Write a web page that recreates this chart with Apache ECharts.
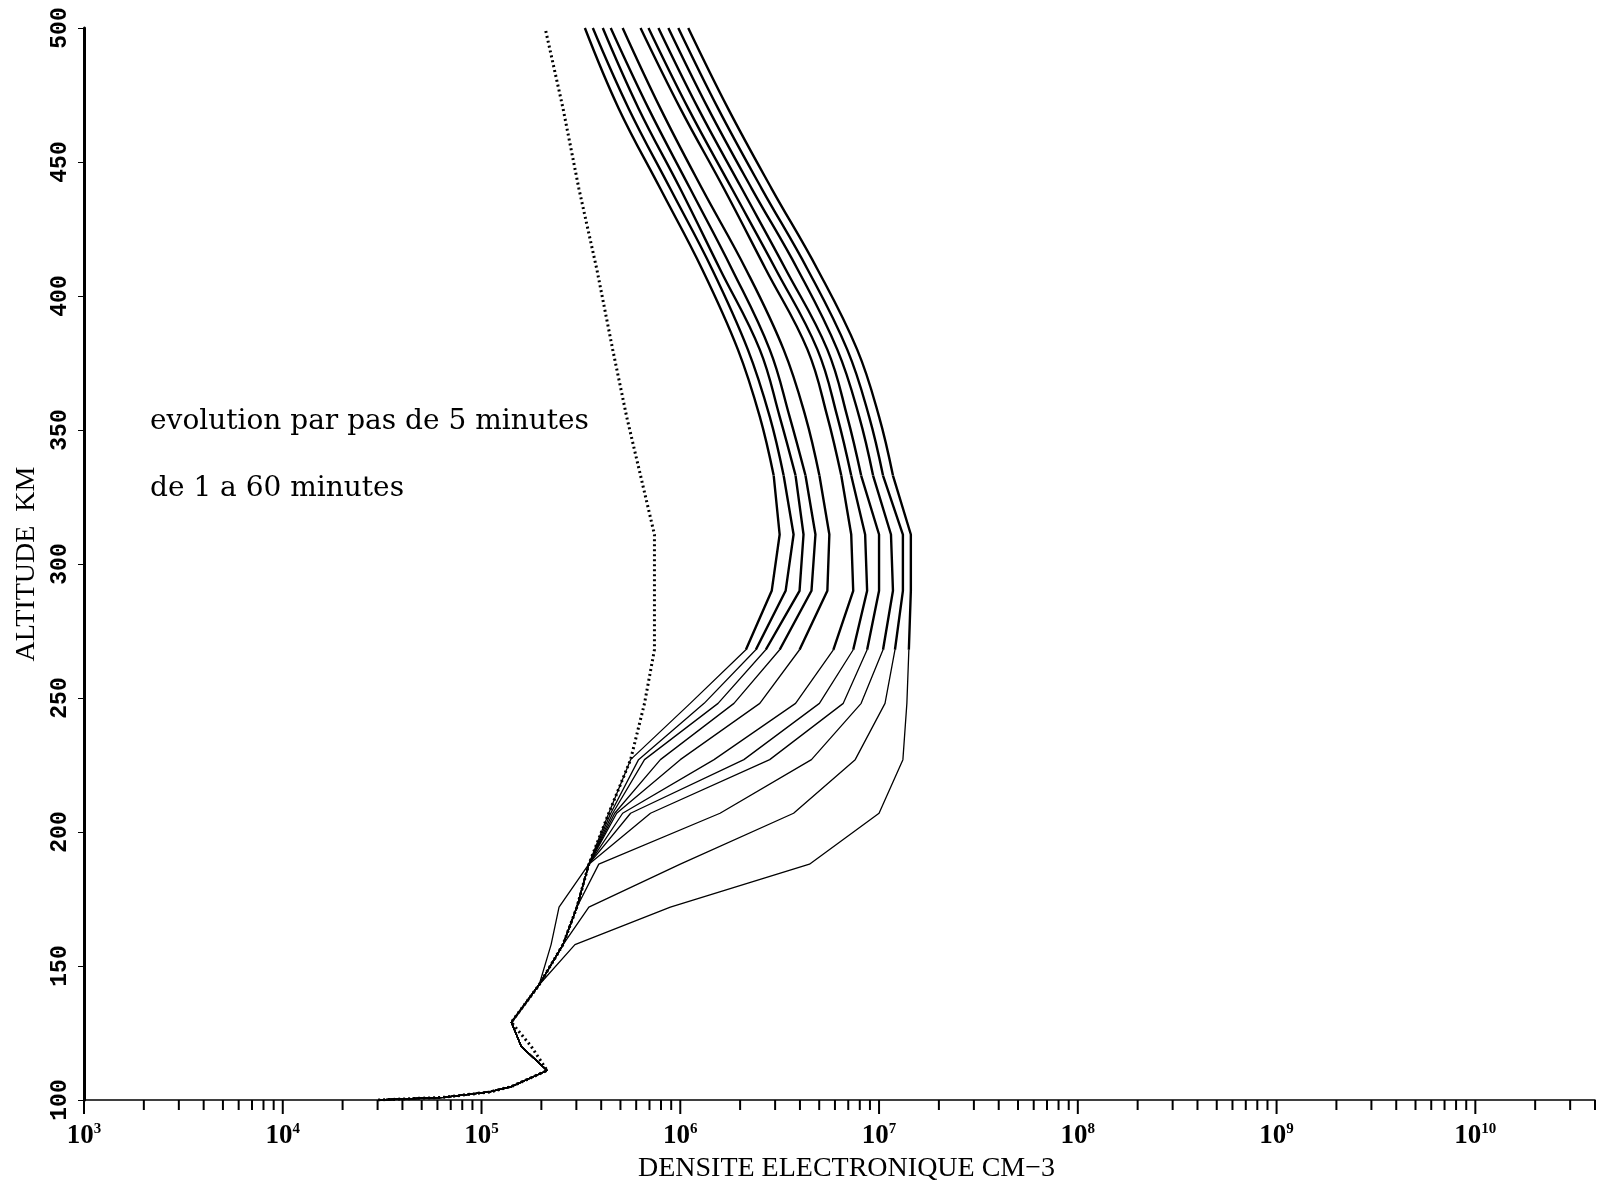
<!DOCTYPE html>
<html>
<head>
<meta charset="utf-8">
<script src="https://cdn.jsdelivr.net/npm/echarts@6/dist/echarts.min.js"></script>
<style>
    html, body { margin: 0; padding: 0; background: #fff; }
    #chart { width: 1602px; height: 1181px; }
</style>
</head>
<body>
<div id="chart"></div>
<script>
// altitude grid (km), shared by every profile
const altitudes = [100, 101, 103, 105, 111, 120, 129, 143, 158, 172, 188, 207, 227, 248, 268, 290, 311, 333, 355, 380, 410, 440, 470, 500];

// log10 of electron density (cm-3) at each altitude
// initial profile (dotted)
const logNeInitial = [4.48, 4.81, 5.04, 5.15, 5.33, 5.25, 5.15, 5.29, 5.41, 5.48, 5.54, 5.64, 5.75, 5.82, 5.87, 5.87, 5.87, 5.80, 5.73, 5.66, 5.58, 5.49, 5.41, 5.32];
// profiles, one every 5 minutes
const logNe1 = [4.48, 4.81, 5.04, 5.15, 5.33, 5.20, 5.15, 5.29, 5.35, 5.39, 5.54, 5.64, 5.75, 6.05, 6.33, 6.46, 6.50, 6.47, 6.40, 6.29, 6.11, 5.90, 5.69, 5.52];
const logNe2 = [4.48, 4.81, 5.04, 5.15, 5.33, 5.20, 5.15, 5.29, 5.41, 5.48, 5.54, 5.65, 5.79, 6.12, 6.38, 6.53, 6.57, 6.52, 6.45, 6.34, 6.16, 5.95, 5.74, 5.56];
const logNe3 = [4.48, 4.81, 5.04, 5.15, 5.33, 5.20, 5.15, 5.29, 5.41, 5.48, 5.54, 5.66, 5.82, 6.19, 6.43, 6.60, 6.62, 6.58, 6.50, 6.40, 6.20, 6.00, 5.79, 5.61];
const logNe4 = [4.48, 4.81, 5.04, 5.15, 5.33, 5.20, 5.15, 5.29, 5.41, 5.48, 5.54, 5.67, 5.90, 6.27, 6.50, 6.66, 6.68, 6.63, 6.55, 6.45, 6.26, 6.05, 5.84, 5.65];
const logNe5 = [4.48, 4.81, 5.04, 5.15, 5.33, 5.20, 5.15, 5.29, 5.41, 5.48, 5.54, 5.68, 6.00, 6.40, 6.60, 6.74, 6.75, 6.70, 6.63, 6.52, 6.33, 6.11, 5.90, 5.71];
const logNe6 = [4.48, 4.81, 5.04, 5.15, 5.33, 5.20, 5.15, 5.29, 5.41, 5.48, 5.54, 5.71, 6.17, 6.58, 6.77, 6.87, 6.86, 6.81, 6.74, 6.64, 6.43, 6.22, 6.00, 5.80];
const logNe7 = [4.48, 4.81, 5.04, 5.15, 5.33, 5.20, 5.15, 5.29, 5.41, 5.48, 5.54, 5.75, 6.32, 6.70, 6.87, 6.94, 6.93, 6.86, 6.79, 6.69, 6.48, 6.26, 6.04, 5.84];
const logNe8 = [4.48, 4.81, 5.04, 5.15, 5.33, 5.20, 5.15, 5.29, 5.41, 5.48, 5.54, 5.85, 6.45, 6.82, 6.94, 7.00, 7.00, 6.91, 6.84, 6.74, 6.53, 6.31, 6.09, 5.89];
const logNe9 = [4.48, 4.81, 5.04, 5.15, 5.33, 5.20, 5.15, 5.29, 5.41, 5.48, 5.59, 6.20, 6.66, 6.91, 7.02, 7.07, 7.06, 6.97, 6.90, 6.79, 6.59, 6.36, 6.14, 5.94];
const logNe10 = [4.48, 4.81, 5.04, 5.15, 5.33, 5.20, 5.15, 5.29, 5.41, 5.54, 6.00, 6.57, 6.88, 7.03, 7.08, 7.12, 7.12, 7.02, 6.95, 6.84, 6.64, 6.41, 6.19, 5.99];
const logNe11 = [4.48, 4.81, 5.04, 5.15, 5.33, 5.20, 5.15, 5.29, 5.47, 5.95, 6.65, 7.00, 7.12, 7.14, 7.15, 7.16, 7.16, 7.07, 7.00, 6.89, 6.69, 6.46, 6.24, 6.04];

const solidProfiles = [logNe1, logNe2, logNe3, logNe4, logNe5, logNe6, logNe7, logNe8, logNe9, logNe10, logNe11];

// the plotter pen drew the upper part of the profiles heavier
const heavyFromAltitude = 268;
// above this the profiles are smooth curves
const smoothFromAltitude = 333;

// axis ticks
const decadeExponents = [3, 4, 5, 6, 7, 8, 9, 10];
const minorMultipliers = [2, 3, 4, 5, 6, 7, 8, 9];
const densityMin = 1e3;
const densityMax = 4e10;

function toPoints(logs) {
    return logs.map((v, i) => [Math.pow(10, v), altitudes[i]]);
}

// x tick marks (drawn below the axis)
const xTicks = [];
decadeExponents.forEach(e => {
    xTicks.push([Math.pow(10, e), 100, 1]);
    minorMultipliers.forEach(m => {
        const v = m * Math.pow(10, e);
        if (v <= densityMax) xTicks.push([v, 100, 0]);
    });
});

const chart = echarts.init(document.getElementById('chart'), null, { renderer: 'canvas' });

function lineSeries(data, width, extra) {
    return Object.assign({
        type: 'line',
        data: data,
        showSymbol: false,
        lineStyle: { color: '#000', width: width, join: 'round' },
        silent: true,
        z: 3
    }, extra || {});
}

const series = [];
const iHeavy = altitudes.indexOf(heavyFromAltitude);
const iSmooth = altitudes.indexOf(smoothFromAltitude);

// initial profile, dotted
series.push(lineSeries(toPoints(logNeInitial), 3, { lineStyle: { color: '#000', width: 3, type: [2, 3] } }));

solidProfiles.forEach(p => {
    const pts = toPoints(p);
    series.push(lineSeries(pts.slice(0, iHeavy + 1), 1.3));
    series.push(lineSeries(pts.slice(iHeavy, iSmooth + 1), 2.4));
    series.push(lineSeries(pts.slice(iSmooth), 2.4, { smooth: 0.4 }));
});

series.push({
    type: 'custom',
    data: xTicks,
    clip: false,
    silent: true,
    encode: { x: 0, y: 1 },
    renderItem: function (params, api) {
        const pt = api.coord([api.value(0), api.value(1)]);
        const len = api.value(2) ? 14 : 10;
        return {
            type: 'line',
            shape: { x1: pt[0], y1: pt[1], x2: pt[0], y2: pt[1] + len },
            style: { stroke: '#000', lineWidth: 2 }
        };
    },
    z: 4
});

const option = {
    animation: false,
    backgroundColor: '#ffffff',
    grid: { left: 84, right: 7, top: 28, bottom: 81, outerBoundsMode: 'none', containLabel: false },
    xAxis: {
        type: 'log',
        logBase: 10,
        min: densityMin,
        max: densityMax,
        splitNumber: 8,
        name: 'DENSITE ELECTRONIQUE CM\u22123',
        nameLocation: 'middle',
        nameGap: 48,
        nameTextStyle: { fontFamily: 'Liberation Serif', fontSize: 28, color: '#000', padding: [0, 0, 0, 14] },
        axisLine: { show: true, onZero: false, lineStyle: { color: '#000', width: 1.5 } },
        axisTick: { show: false },
        splitLine: { show: false },
        axisLabel: {
            margin: 22,
            showMaxLabel: false,
            formatter: function (value) {
                const e = Math.round(Math.log10(value));
                if (Math.abs(Math.log10(value) - e) > 1e-6 || decadeExponents.indexOf(e) < 0) return '';
                return '{b|10}{s|' + e + '}';
            },
            rich: {
                b: { fontFamily: 'Liberation Serif', fontSize: 27, fontWeight: 'bold', color: '#000' },
                s: { fontFamily: 'Liberation Serif', fontSize: 15, fontWeight: 'bold', color: '#000', verticalAlign: 'top', padding: [0, 0, 14, 0] }
            }
        }
    },
    yAxis: {
        type: 'value',
        min: 100,
        max: 500,
        interval: 50,
        name: 'ALTITUDE  KM',
        nameLocation: 'middle',
        nameGap: 40,
        nameTextStyle: { fontFamily: 'Liberation Serif', fontSize: 28, color: '#000' },
        axisLine: { show: true, lineStyle: { color: '#000', width: 3 } },
        axisTick: { show: true, length: 6, lineStyle: { color: '#000', width: 1 } },
        splitLine: { show: false },
        axisLabel: {
            rotate: 90,
            margin: 12,
            fontFamily: 'Liberation Mono',
            fontWeight: 'bold',
            fontSize: 23,
            color: '#000'
        }
    },
    graphic: [
        {
            type: 'text', left: 150, top: 408,
            style: { text: 'evolution par pas de 5 minutes', font: '28px "DejaVu Serif"', fill: '#000' }
        },
        {
            type: 'text', left: 150, top: 475,
            style: { text: 'de 1 a 60 minutes', font: '28px "DejaVu Serif"', fill: '#000' }
        }
    ],
    series: series
};

chart.setOption(option);
</script>
</body>
</html>
